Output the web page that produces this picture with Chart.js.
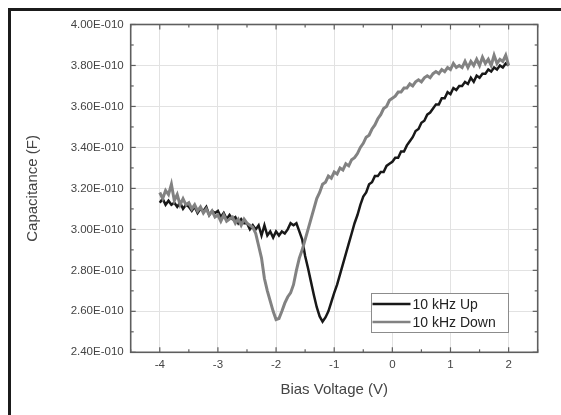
<!DOCTYPE html>
<html><head><meta charset="utf-8">
<script src="https://cdn.jsdelivr.net/npm/chart.js@4"></script>
<style>html,body{margin:0;padding:0;background:#fff;}#wrap{width:561px;height:415px;position:relative;}</style>
</head><body><div id="wrap"><canvas id="c" width="561" height="415"></canvas></div>
<script>
// Bias voltage (V)
const voltage = [
 -4,-3.95,-3.9,-3.85,-3.8,-3.75,-3.7,-3.65,-3.6,-3.55,
 -3.5,-3.45,-3.4,-3.35,-3.3,-3.25,-3.2,-3.15,-3.1,-3.05,
 -3,-2.95,-2.9,-2.85,-2.8,-2.75,-2.7,-2.65,-2.6,-2.55,
 -2.5,-2.45,-2.4,-2.35,-2.3,-2.25,-2.2,-2.15,-2.1,-2.05,
 -2,-1.95,-1.9,-1.85,-1.8,-1.75,-1.7,-1.65,-1.6,-1.55,
 -1.5,-1.45,-1.4,-1.35,-1.3,-1.25,-1.2,-1.15,-1.1,-1.05,
 -1,-0.95,-0.9,-0.85,-0.8,-0.75,-0.7,-0.65,-0.6,-0.55,
 -0.5,-0.45,-0.4,-0.35,-0.3,-0.25,-0.2,-0.15,-0.1,-0.05,
 0,0.05,0.1,0.15,0.2,0.25,0.3,0.35,0.4,0.45,
 0.5,0.55,0.6,0.65,0.7,0.75,0.8,0.85,0.9,0.95,
 1,1.05,1.1,1.15,1.2,1.25,1.3,1.35,1.4,1.45,
 1.5,1.55,1.6,1.65,1.7,1.75,1.8,1.85,1.9,1.95,
 2
];
// Capacitance, in units of 1E-010 F
const capUp = [
 3.13,3.15,3.12,3.14,3.12,3.13,3.11,3.13,3.10,3.12,
 3.11,3.09,3.11,3.08,3.10,3.09,3.11,3.07,3.09,3.08,
 3.09,3.06,3.08,3.05,3.07,3.05,3.06,3.03,3.05,3.03,
 3.03,3.00,3.02,3.00,3.02,2.97,3.02,2.97,2.99,2.96,
 2.99,2.97,2.99,2.98,3.00,3.03,3.02,3.03,2.99,2.95,
 2.87,2.81,2.745,2.68,2.62,2.575,2.55,2.57,2.60,2.645,
 2.69,2.73,2.78,2.83,2.88,2.93,2.98,3.03,3.07,3.12,
 3.16,3.18,3.22,3.23,3.26,3.26,3.28,3.28,3.31,3.32,
 3.33,3.35,3.35,3.38,3.38,3.41,3.43,3.45,3.48,3.49,
 3.52,3.53,3.56,3.57,3.59,3.61,3.61,3.64,3.64,3.67,
 3.66,3.69,3.68,3.70,3.70,3.72,3.71,3.74,3.72,3.75,
 3.74,3.76,3.76,3.78,3.77,3.79,3.78,3.80,3.79,3.81,
 3.80
];
const capDown = [
 3.18,3.15,3.19,3.17,3.22,3.14,3.17,3.12,3.15,3.12,
 3.13,3.10,3.12,3.09,3.11,3.08,3.10,3.07,3.09,3.06,
 3.07,3.04,3.07,3.04,3.05,3.06,3.03,3.05,3.02,3.05,
 3.03,3.02,3.01,2.98,2.92,2.86,2.76,2.70,2.65,2.60,
 2.56,2.565,2.60,2.64,2.67,2.69,2.73,2.80,2.86,2.90,
 2.95,3.00,3.05,3.10,3.15,3.18,3.22,3.23,3.26,3.25,
 3.28,3.27,3.30,3.29,3.32,3.31,3.34,3.35,3.37,3.40,
 3.42,3.45,3.46,3.49,3.51,3.54,3.56,3.59,3.60,3.63,
 3.64,3.65,3.67,3.67,3.69,3.69,3.71,3.70,3.72,3.73,
 3.72,3.74,3.75,3.74,3.76,3.77,3.76,3.78,3.77,3.79,
 3.78,3.81,3.79,3.80,3.79,3.82,3.79,3.82,3.80,3.83,
 3.80,3.84,3.81,3.83,3.80,3.85,3.81,3.83,3.82,3.85,
 3.80
];
const seriesNames = ["10 kHz Up", "10 kHz Down"];
const xTickValues = [-4, -3, -2, -1, 0, 1, 2];
const yTickValues = [2.4, 2.6, 2.8, 3.0, 3.2, 3.4, 3.6, 3.8, 4.0]; // x 1E-010
const UNIT = 1e-10;

const FONT = "'Liberation Sans', Arial, sans-serif";
const TEXT = '#444';
const AXIS = '#5e5e5e';
const upColor = '#181818';
const downColor = '#828282';

function fmtE(v) {
  const parts = v.toExponential(2).split('e');
  const n = parseInt(parts[1], 10);
  return parts[0] + 'E' + (n < 0 ? '-' : '+') + String(Math.abs(n)).padStart(3, '0');
}

const framePlugin = {
  id: 'frame',
  beforeDraw(chart) {
    const c = chart.ctx;
    c.save();
    c.fillStyle = '#fff';
    c.fillRect(0, 0, chart.width, chart.height);
    c.fillStyle = '#1b1b1b';
    c.fillRect(8, 8, chart.width - 8, 3);
    c.fillRect(8, 8, 3, chart.height - 8);
    c.restore();
  },
  afterDatasetsDraw(chart) {
    const { ctx, chartArea: a, scales: { x, y } } = chart;
    ctx.save();
    ctx.strokeStyle = AXIS;
    ctx.lineWidth = 1.2;
    const seg = (x1, y1, x2, y2) => { ctx.beginPath(); ctx.moveTo(x1, y1); ctx.lineTo(x2, y2); ctx.stroke(); };
    for (let k = -9; k <= 5; k++) {
      const v = k / 2, len = (k % 2 === 0) ? 5 : 3;
      const px = x.getPixelForValue(v);
      seg(px, a.bottom, px, a.bottom - len);
      seg(px, a.top, px, a.top + len);
    }
    for (let k = 24; k <= 40; k++) {
      const v = k / 10 * UNIT, len = (k % 2 === 0) ? 5 : 3;
      const py = y.getPixelForValue(v);
      seg(a.left, py, a.left + len, py);
      seg(a.right, py, a.right - len, py);
    }
    ctx.lineWidth = 1.6;
    ctx.strokeRect(a.left, a.top, a.right - a.left, a.bottom - a.top);

    // legend
    const lx = 371.5, ly = 293.5, lw = 137, lh = 39;
    ctx.fillStyle = '#fff';
    ctx.fillRect(lx, ly, lw, lh);
    ctx.strokeStyle = '#8c8c8c';
    ctx.lineWidth = 1;
    ctx.strokeRect(lx, ly, lw, lh);
    const items = [[seriesNames[0], upColor, 304], [seriesNames[1], downColor, 322]];
    ctx.font = '14px ' + FONT;
    ctx.textBaseline = 'middle';
    ctx.textAlign = 'left';
    items.forEach(([t, col, yy]) => {
      ctx.strokeStyle = col;
      ctx.lineWidth = 2.5;
      seg(lx + 1, yy, lx + 39, yy);
      ctx.fillStyle = '#222';
      ctx.fillText(t, lx + 41, yy + 1);
    });
    ctx.restore();
  }
};

new Chart(document.getElementById('c').getContext('2d'), {
  type: 'line',
  data: {
    datasets: [
      { label: seriesNames[0], data: voltage.map((v, i) => ({ x: v, y: capUp[i] * UNIT })),
        borderColor: upColor, borderWidth: 2.5, pointRadius: 0, tension: 0, order: 1 },
      { label: seriesNames[1], data: voltage.map((v, i) => ({ x: v, y: capDown[i] * UNIT })),
        borderColor: downColor, borderWidth: 3, pointRadius: 0, tension: 0, order: 0 }
    ]
  },
  options: {
    responsive: false, animation: false, devicePixelRatio: 1,
    layout: { padding: { left: 0, top: 24.5, right: 23.3, bottom: 0 } },
    plugins: { legend: { display: false }, tooltip: { enabled: false } },
    scales: {
      x: {
        type: 'linear', min: -4.5, max: 2.5,
        afterBuildTicks: s => { s.ticks = xTickValues.map(v => ({ value: v })); },
        afterFit: s => { s.height = 62.7; },
        grid: { color: '#e2e2e2', lineWidth: 1, drawTicks: false },
        border: { display: false },
        ticks: { padding: 6, color: TEXT, font: { family: FONT, size: 11.5 }, maxRotation: 0, autoSkip: false,
                 callback: v => String(v) },
        title: { display: true, text: 'Bias Voltage (V)', color: TEXT, font: { family: FONT, size: 15 },
                 padding: { top: 0, bottom: 16 } }
      },
      y: {
        type: 'linear', min: 2.4 * UNIT, max: 4.0 * UNIT,
        afterBuildTicks: s => { s.ticks = yTickValues.map(v => ({ value: v * UNIT })); },
        afterFit: s => { s.width = 130.7; },
        grid: { color: '#e2e2e2', lineWidth: 1, drawTicks: false },
        border: { display: false },
        ticks: { padding: 7, color: TEXT, font: { family: FONT, size: 11.5 }, autoSkip: false,
                 callback: v => fmtE(v) },
        title: { display: true, text: 'Capacitance (F)', color: TEXT, font: { family: FONT, size: 15 },
                 padding: { top: 24, bottom: 0 } }
      }
    }
  },
  plugins: [framePlugin]
});
</script>
</body></html>
